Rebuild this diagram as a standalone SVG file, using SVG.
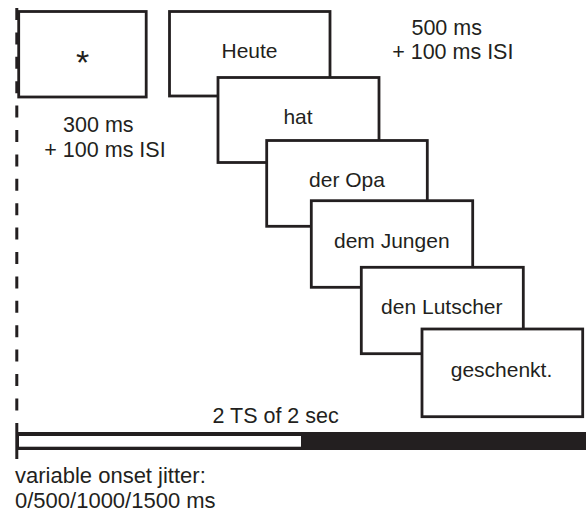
<svg xmlns="http://www.w3.org/2000/svg" width="586" height="514" viewBox="0 0 586 514">
<style>
.box{fill:#fff;stroke:#231f20;stroke-width:2.8}
.lbl{font-family:"Liberation Sans",Arial,Helvetica,sans-serif;font-size:21px;fill:#231f20;text-anchor:middle}
.ann{font-family:"Liberation Sans",Arial,Helvetica,sans-serif;font-size:21.5px;fill:#231f20}
.mid{text-anchor:middle}
</style>
<rect width="586" height="514" fill="#fff"/>
<g id="connectors">
<line x1="16.8" y1="8" x2="16.8" y2="411" stroke="#231f20" stroke-width="3" stroke-dasharray="12 12.4"/>
</g>
<g id="fixation">
<rect class="box" x="18.7" y="11.5" width="127.5" height="85.5"/>
<text class="lbl" x="82.5" y="73.5" style="font-size:34px">*</text>
</g>
<g id="fixation-timing">
<text class="ann mid" x="98.3" y="132.3">300 ms</text>
<text class="ann mid" x="105" y="157.3">+ 100 ms ISI</text>
</g>
<g id="word-timing">
<text class="ann mid" x="446.7" y="35">500 ms</text>
<text class="ann mid" x="452.8" y="59.3">+ 100 ms ISI</text>
</g>
<g id="w1">
<rect class="box" x="169.5" y="11.5" width="160.5" height="84.5"/>
<text class="lbl" x="249.5" y="58.3">Heute</text>
</g>
<g id="w2">
<rect class="box" x="218" y="77.5" width="161" height="85"/>
<text class="lbl" x="298" y="124">hat</text>
</g>
<g id="w3">
<rect class="box" x="266.7" y="140.5" width="160.6" height="85.8"/>
<text class="lbl" x="347" y="187.3">der Opa</text>
</g>
<g id="w4">
<rect class="box" x="311.3" y="200.7" width="161.4" height="86.6"/>
<text class="lbl" x="391.8" y="248.3">dem Jungen</text>
</g>
<g id="w5">
<rect class="box" x="361.3" y="267.3" width="162" height="86.4"/>
<text class="lbl" x="441.8" y="314.3">den Lutscher</text>
</g>
<g id="w6">
<rect class="box" x="422" y="329" width="160.7" height="87.7"/>
<text class="lbl" x="501.5" y="376.7">geschenkt.</text>
</g>
<g id="timeline">
<text class="ann mid" x="275.6" y="422.7">2 TS of 2 sec</text>
<rect x="17" y="432" width="569" height="18" fill="#231f20"/>
<rect x="19" y="436" width="282" height="10.7" fill="#fff"/>
<line x1="16.8" y1="423" x2="16.8" y2="459" stroke="#231f20" stroke-width="3"/>
</g>
<g id="jitter">
<text class="ann" x="15" y="483.3" style="font-size:22px">variable onset jitter:</text>
<text class="ann" x="15" y="508.3" style="font-size:22px">0/500/1000/1500 ms</text>
</g>
</svg>
